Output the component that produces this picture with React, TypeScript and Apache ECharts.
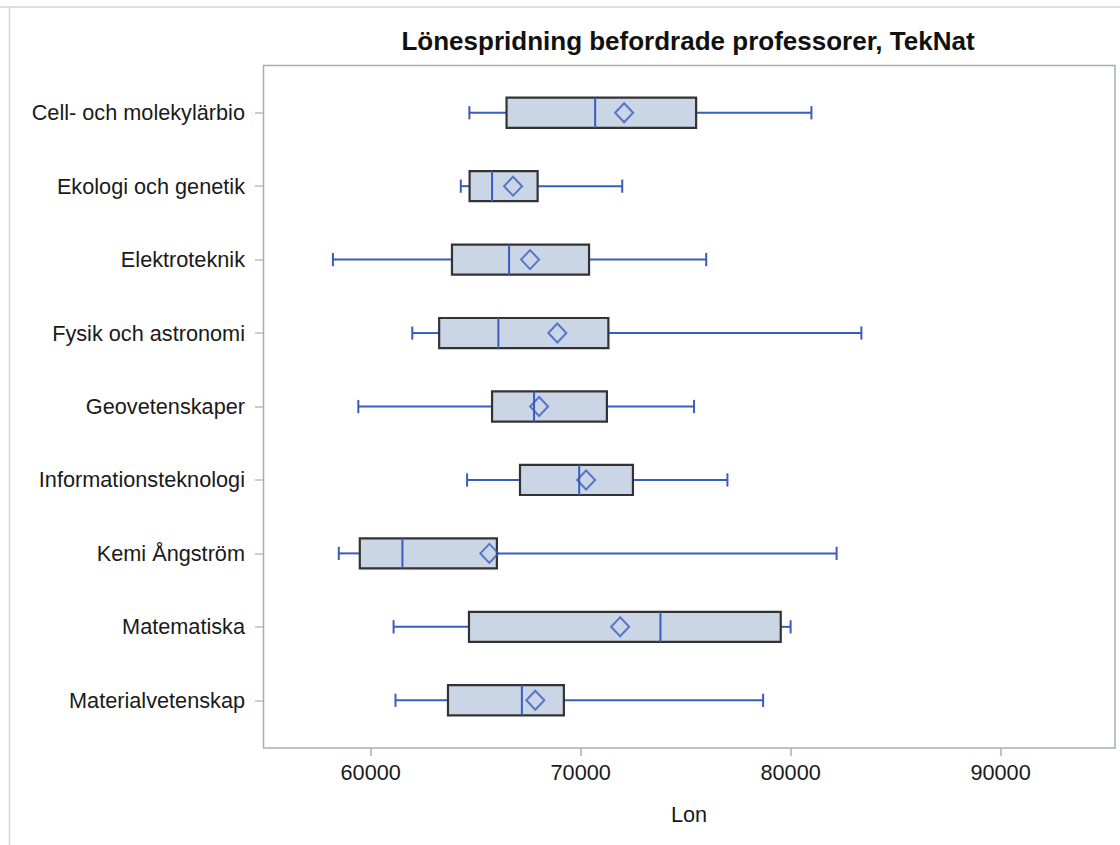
import React, { useEffect, useRef } from "react";
import * as echarts from "echarts";

const categories = [
  "Cell- och molekylärbio",
  "Ekologi och genetik",
  "Elektroteknik",
  "Fysik och astronomi",
  "Geovetenskaper",
  "Informationsteknologi",
  "Kemi Ångström",
  "Matematiska",
  "Materialvetenskap",
];
const minVals = [64700, 64290, 58200, 61980, 59410, 64590, 58480, 61090, 61180];
const q1Vals = [66470, 64710, 63870, 63260, 65780, 67110, 59480, 64680, 63680];
const medianVals = [70690, 65780, 66590, 66080, 67780, 69930, 61510, 73800, 67200];
const q3Vals = [75500, 67950, 70400, 71320, 71250, 72490, 66010, 79530, 69200];
const maxVals = [80990, 71980, 75980, 83370, 75400, 76990, 82190, 80000, 78690];
const meanVals = [72070, 66780, 67590, 68890, 68020, 70260, 65650, 71880, 67840];
const xTicks = [60000, 70000, 80000, 90000];

const FONT = '"Liberation Sans", Arial, sans-serif';
const BLUE = "#3a5cc0";
const FILL = "#cad5e5";
const EDGE = "#333333";
const FRAME = "#a9adb2";
const TEXT = "#1a1a1a";

export default function App() {
  const ref = useRef<HTMLDivElement>(null);
  useEffect(() => {
    if (!ref.current) return;
    const chart = echarts.init(ref.current, null, { renderer: "svg" });
    const boxData = categories.map((_, i) => [i, minVals[i], q1Vals[i], medianVals[i], q3Vals[i], maxVals[i]]);
    const meanData = categories.map((_, i) => [meanVals[i], i]);
    const renderItem = (params: any, api: any) => {
      const idx = api.value(0);
      const band = api.size([0, 1])[1];
      const half = band * 0.205;
      const capHalf = band * 0.09;
      const pMin = api.coord([api.value(1), idx]);
      const pQ1 = api.coord([api.value(2), idx]);
      const pMed = api.coord([api.value(3), idx]);
      const pQ3 = api.coord([api.value(4), idx]);
      const pMax = api.coord([api.value(5), idx]);
      const y = pMin[1];
      const lineStyle = { stroke: BLUE, lineWidth: 2, fill: null };
      return {
        type: "group",
        children: [
          { type: "line", shape: { x1: pMin[0], y1: y, x2: pQ1[0], y2: y }, style: lineStyle },
          { type: "line", shape: { x1: pQ3[0], y1: y, x2: pMax[0], y2: y }, style: lineStyle },
          { type: "line", shape: { x1: pMin[0], y1: y - capHalf, x2: pMin[0], y2: y + capHalf }, style: lineStyle },
          { type: "line", shape: { x1: pMax[0], y1: y - capHalf, x2: pMax[0], y2: y + capHalf }, style: lineStyle },
          {
            type: "rect",
            shape: { x: pQ1[0], y: y - half, width: pQ3[0] - pQ1[0], height: half * 2 },
            style: { fill: FILL, stroke: EDGE, lineWidth: 2.2 },
          },
          { type: "line", shape: { x1: pMed[0], y1: y - half, x2: pMed[0], y2: y + half }, style: lineStyle },
        ],
      };
    };
    chart.setOption({
      animation: false,
      grid: { left: 263, right: 5, top: 76, bottom: 108 },
      xAxis: {
        type: "value",
        min: 54870,
        max: 95450,
        offset: 11,
        axisLine: { show: false },
        splitLine: { show: false },
        axisTick: { show: true, length: 8, customValues: xTicks, lineStyle: { color: FRAME, width: 1.5 } },
        axisLabel: {
          customValues: xTicks,
          margin: 13,
          fontSize: 21.7,
          color: TEXT,
          fontFamily: FONT,
          formatter: (v: number) => String(v),
        },
        name: "Lon",
        nameLocation: "middle",
        nameGap: 55,
        nameTextStyle: { fontSize: 21.7, color: TEXT, fontFamily: FONT },
      },
      yAxis: {
        type: "category",
        data: categories,
        inverse: true,
        axisLine: { show: false },
        axisTick: { show: true, length: 8, alignWithLabel: true, lineStyle: { color: "#b8bcc0", width: 1.5 } },
        axisLabel: { margin: 18, fontSize: 21.7, color: TEXT, fontFamily: FONT },
        splitLine: { show: false },
      },
      graphic: [
        { type: "line", shape: { x1: 0, y1: 7, x2: 1120, y2: 7 }, style: { stroke: "#d4d4d4", lineWidth: 1.5 } },
        { type: "line", shape: { x1: 9.5, y1: 7, x2: 9.5, y2: 845 }, style: { stroke: "#d4d4d4", lineWidth: 1.5 } },
        {
          type: "rect",
          shape: { x: 263.5, y: 65.5, width: 851.5, height: 682.5 },
          style: { fill: "none", stroke: FRAME, lineWidth: 1.5 },
          z: 10,
        },
        {
          type: "text",
          x: 688,
          y: 41,
          style: {
            text: "Lönespridning befordrade professorer, TekNat",
            fontSize: 26,
            fontWeight: "bold",
            fontFamily: FONT,
            fill: "#111",
            align: "center",
            verticalAlign: "middle",
          },
        },
      ],
      series: [
        {
          type: "custom",
          renderItem,
          data: boxData,
          encode: { x: [1, 2, 3, 4, 5], y: 0 },
          z: 2,
        },
        {
          type: "scatter",
          data: meanData,
          symbol: "diamond",
          symbolSize: [18, 19],
          itemStyle: { color: "rgba(0,0,0,0)", borderColor: BLUE, borderWidth: 2 },
          z: 5,
        },
      ],
    });
    return () => chart.dispose();
  }, []);
  return (
    <div
      ref={ref}
      style={{ position: "absolute", left: 0, top: 0, width: 1120, height: 845, background: "#fff" }}
    />
  );
}
